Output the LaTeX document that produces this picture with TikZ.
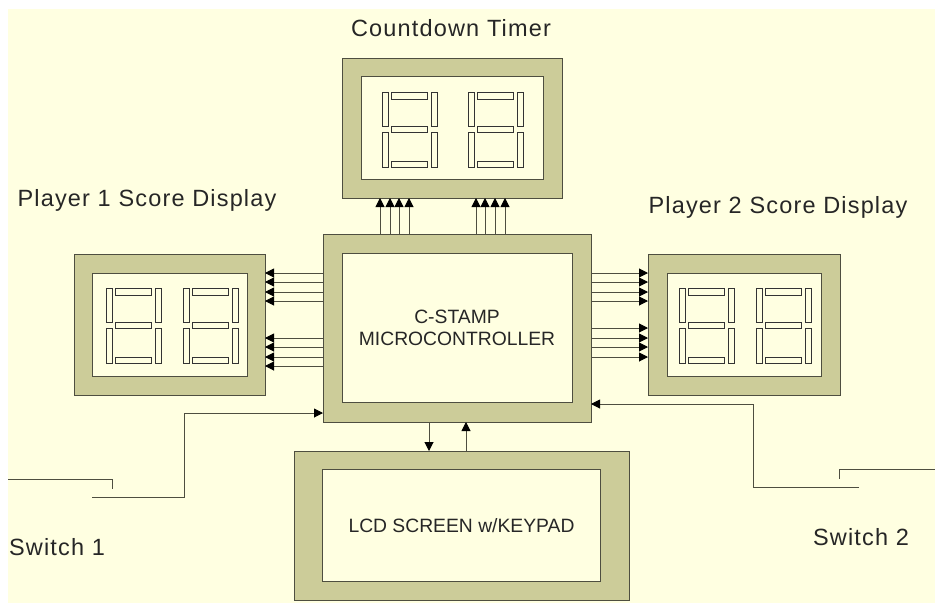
\documentclass[tikz,border=0pt]{standalone}
\usepackage{fontspec}
\usepackage{xcolor}
\setmainfont{Liberation Sans}
\newfontfamily\captionfont[LetterSpace=5]{Liberation Sans}
\usetikzlibrary{positioning,arrows.meta}
\definecolor{paper}{HTML}{FFFFE1}
\definecolor{olive}{HTML}{CCCC99}
\definecolor{edge}{HTML}{4E4E40}

\begin{document}
\begin{tikzpicture}[
  x=1pt, y=-1pt,
  frame/.style={draw=edge, line width=0.9pt, fill=olive, inner sep=0pt, outer sep=0pt},
  screen/.style={draw=edge, line width=0.9pt, fill=paper, inner sep=0pt, outer sep=0pt,
              align=center, font=\fontsize{19.3}{22}\selectfont, text=black!85},
  seg/.style={draw=black!80, line width=0.9pt, fill=paper},
  arr/.style={-{Triangle[length=9pt,width=9pt,color=black]}, draw=edge, line width=1pt},
  wire/.style={draw=edge, line width=1pt},
  caption/.style={font=\captionfont\fontsize{23.5}{26}\selectfont, text=black!85, inner sep=0pt}
]
\useasboundingbox (0,0) rectangle (935,603);
\fill[white] (0,0) rectangle (935,603);
\fill[paper] (8,9) rectangle (935,603);

%% Microcontroller in the middle
\node[frame, minimum width=268pt, minimum height=188pt] (mcu) at (457,328) {};
\node[screen, minimum width=230pt, minimum height=149pt] (mcuin) at (mcu) {C-STAMP\\MICROCONTROLLER};

%% Displays around it
\node[frame, minimum width=220pt, minimum height=140pt, above=36pt of mcu, xshift=-5pt] (timer) {};
\node[screen, minimum width=182pt, minimum height=103pt] (timerin) at (timer) {};
\node[frame, minimum width=191pt, minimum height=141pt, left=58pt of mcu, yshift=3.5pt] (pone) {};
\node[screen, minimum width=155pt, minimum height=103pt] (ponein) at (pone) {};
\node[frame, minimum width=192pt, minimum height=141pt, right=57pt of mcu, yshift=3.5pt] (ptwo) {};
\node[screen, minimum width=154pt, minimum height=103pt] (ptwoin) at (ptwo) {};

%% LCD below
\node[frame, minimum width=335pt, minimum height=149pt, below=29pt of mcu, xshift=4.5pt] (lcd) {};
\node[screen, minimum width=278pt, minimum height=112pt] (lcdin) at (lcd) {LCD SCREEN w/KEYPAD};

%% Seven segment digits
\foreach \ox/\oy in {382/92,468/92,106/288,183/288,679/288,756/288}
  \foreach \sx/\sy/\sw/\sh in {0/0/6/34,0/40/6/35,49/0/6/34,49/40/6/35,9/0/36/7,9/34/36/6,9/69/36/6}
    \draw[seg] (\ox+\sx,\oy+\sy) rectangle ++(\sw,\sh);

%% Buses
\foreach \ax in {380,390,399,409,476,485,495,505}
  \draw[arr] (\ax,0 |- mcu.north) -- (\ax,0 |- timer.south);
\foreach \ay in {273,282,292,301,338,347,357,366}
  \draw[arr] (mcu.west |- 0,\ay) -- (pone.east |- 0,\ay);
\foreach \ay in {273,282,292,301,328,338,347,357}
  \draw[arr] (mcu.east |- 0,\ay) -- (ptwo.west |- 0,\ay);
\draw[arr] (429,0 |- mcu.south) -- (429,0 |- lcd.north);
\draw[arr] (466,0 |- lcd.north) -- (466,0 |- mcu.south);

%% Switches
\coordinate (swonea) at (8,479);
\coordinate (swoneb) at (112,489);
\coordinate (swonec) at (92,497);
\coordinate (swoned) at (184,413);
\draw[wire] (swonea) -| (swoneb);
\draw[arr] (swonec) -| (swoned) -- (mcu.west |- swoned);

\coordinate (swtwoa) at (935,469);
\coordinate (swtwob) at (839,479);
\coordinate (swtwoc) at (859,487);
\coordinate (swtwod) at (753,404);
\draw[wire] (swtwoa) -| (swtwob);
\draw[arr] (swtwoc) -| (swtwod) -- (mcu.east |- swtwod);

%% Labels
\node[caption] (lbltimer) at (451,28) {Countdown Timer};
\node[caption] (lblone) at (147,200) {Player 1 Score Display};
\node[caption] (lbltwo) at (778,207) {Player 2 Score Display};
\node[caption] (lblswone) at (57,547) {Switch 1};
\node[caption] (lblswtwo) at (861,537) {Switch 2};
\end{tikzpicture}
\end{document}
